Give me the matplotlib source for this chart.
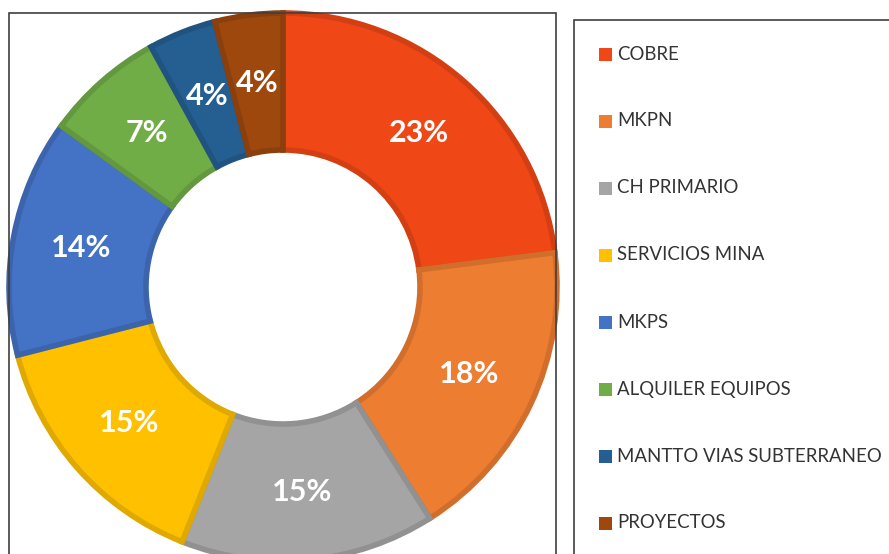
import numpy as np
import matplotlib.pyplot as plt
from matplotlib.patches import Rectangle

# donut chart - share by area
categories = ['COBRE', 'MKPN', 'CH PRIMARIO', 'SERVICIOS MINA', 'MKPS',
              'ALQUILER EQUIPOS', 'MANTTO VIAS SUBTERRANEO', 'PROYECTOS']
values = [23, 18, 15, 15, 14, 7, 4, 4]
colors = ['#F04716', '#ED7D31', '#A5A5A5', '#FFC000', '#4472C4',
          '#70AD47', '#255E91', '#9E480E']

W, H = 889, 554
fig = plt.figure(figsize=(W / 100, H / 100), dpi=100)

# boxes around plot area and legend (cut off by the image edge)
fig.patches.append(Rectangle((9 / W, -0.1), (556 - 9) / W, (H - 13) / H + 0.1,
                             transform=fig.transFigure, fill=False,
                             edgecolor='#404040', linewidth=1.2))
fig.patches.append(Rectangle((574 / W, -0.1), 0.5, (H - 20) / H + 0.1,
                             transform=fig.transFigure, fill=False,
                             edgecolor='#404040', linewidth=1.2))

# pie axes: center (283, 287) px, radius 274 px
cx, cy, r = 283, 287, 274
ax = fig.add_axes([(cx - r) / W, (H - cy - r) / H, 2 * r / W, 2 * r / H])

def darker(c, f=0.88):
    rgb = np.array(plt.matplotlib.colors.to_rgb(c))
    return tuple(rgb * f)

wedges, _ = ax.pie(values, colors=colors, startangle=90, counterclock=False,
                   radius=1.0, wedgeprops=dict(width=0.5, linewidth=4))
for w, c in zip(wedges, colors):
    w.set_edgecolor(darker(c))
    w.set_clip_on(False)
ax.set_xlim(-1, 1)
ax.set_ylim(-1, 1)
ax.axis('off')

total = sum(values)
cum = 0
for v in values:
    mid = 90 - (cum + v / 2) / total * 360
    cum += v
    rr = 0.75
    ax.text(rr * np.cos(np.radians(mid)), rr * np.sin(np.radians(mid)),
            '%d%%' % round(v / total * 100), ha='center', va='center',
            color='white', fontsize=22, fontweight='bold', family='Lato')

# legend drawn by hand
for i, (lab, c) in enumerate(zip(categories, colors)):
    y = 54 + i * 67.0
    fig.patches.append(Rectangle((599 / W, 1 - (y + 7) / H), 13 / W, 13 / H,
                                 transform=fig.transFigure, facecolor=c,
                                 edgecolor='none'))
    fig.text(617 / W, 1 - y / H, lab, ha='left', va='center',
             fontsize=13.4, color='#333333', family='Lato')

fig.savefig('out.png', dpi=100)
